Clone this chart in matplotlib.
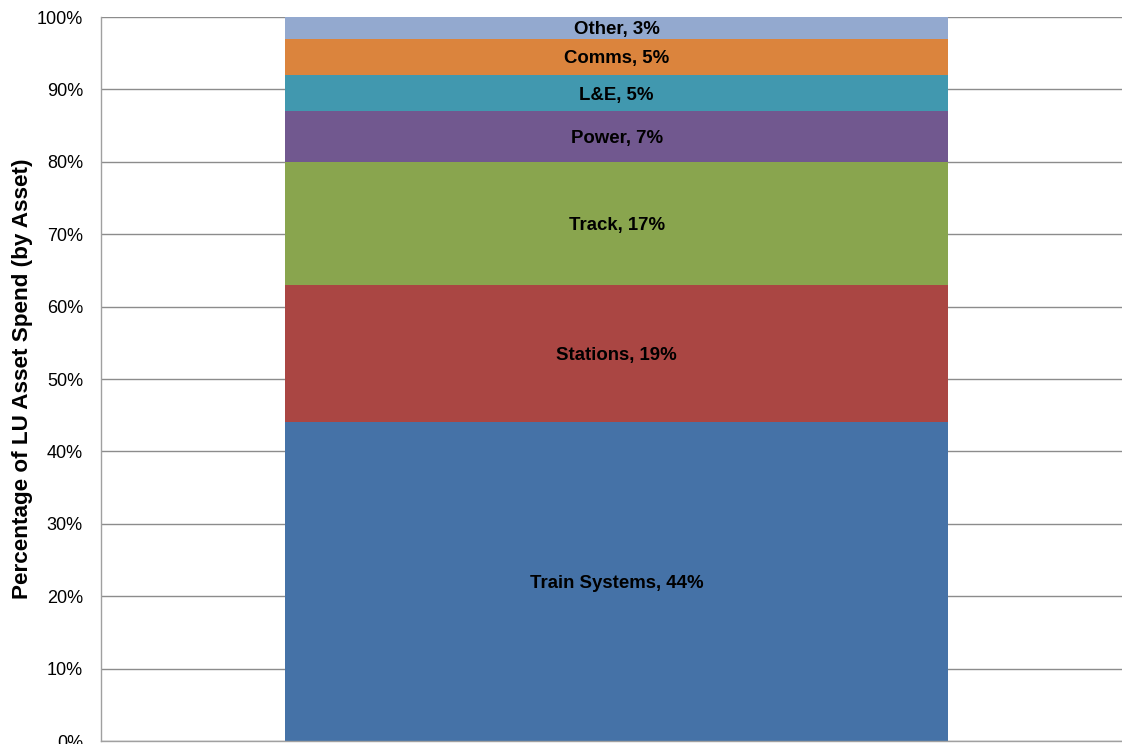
import matplotlib
matplotlib.use("Agg")
import matplotlib.pyplot as plt
from matplotlib.ticker import PercentFormatter

plt.rcParams['font.family'] = ['Liberation Sans', 'DejaVu Sans']

categories = ["Train Systems", "Stations", "Track", "Power", "L&E", "Comms", "Other"]
shares = [44, 19, 17, 7, 5, 5, 3]
colors = ["#4572A7", "#AA4643", "#89A54E", "#71588F", "#4198AF", "#DB843D", "#93A9CF"]
y_ticks = [0, 10, 20, 30, 40, 50, 60, 70, 80, 90, 100]

fig = plt.figure(figsize=(11.22, 7.44), dpi=100)
ax = fig.add_axes([101 / 1122, 3 / 744, 1 - 101 / 1122, 724 / 744])

bottom = 0
for name, val, col in zip(categories, shares, colors):
    ax.bar(0, val, width=0.65, bottom=bottom, color=col, zorder=2)
    ax.text(0, bottom + val / 2, f"{name}, {val}%", ha="center",
            va="center_baseline", fontsize=13.4, fontweight="bold",
            color="black", zorder=3)
    bottom += val

ax.set_xlim(-0.505, 0.495)
ax.set_ylim(0, 100)
ax.set_yticks(y_ticks)
ax.yaxis.set_major_formatter(PercentFormatter(decimals=0))
ax.tick_params(axis="y", length=0, pad=13, labelsize=13, labelcolor="black")
ax.set_xticks([])
ax.grid(axis="y", color="#8c8c8c", linewidth=1, zorder=0)
ax.set_axisbelow(True)

for side in ("top", "right"):
    ax.spines[side].set_visible(False)
for side in ("left", "bottom"):
    ax.spines[side].set_color("#a0a0a0")
    ax.spines[side].set_linewidth(1)

ax.set_ylabel("Percentage of LU Asset Spend (by Asset)", fontsize=16.2,
              fontweight="bold")
ax.yaxis.set_label_coords(-68 / 1021, 0.5)

fig.savefig("out.png", dpi=100)
